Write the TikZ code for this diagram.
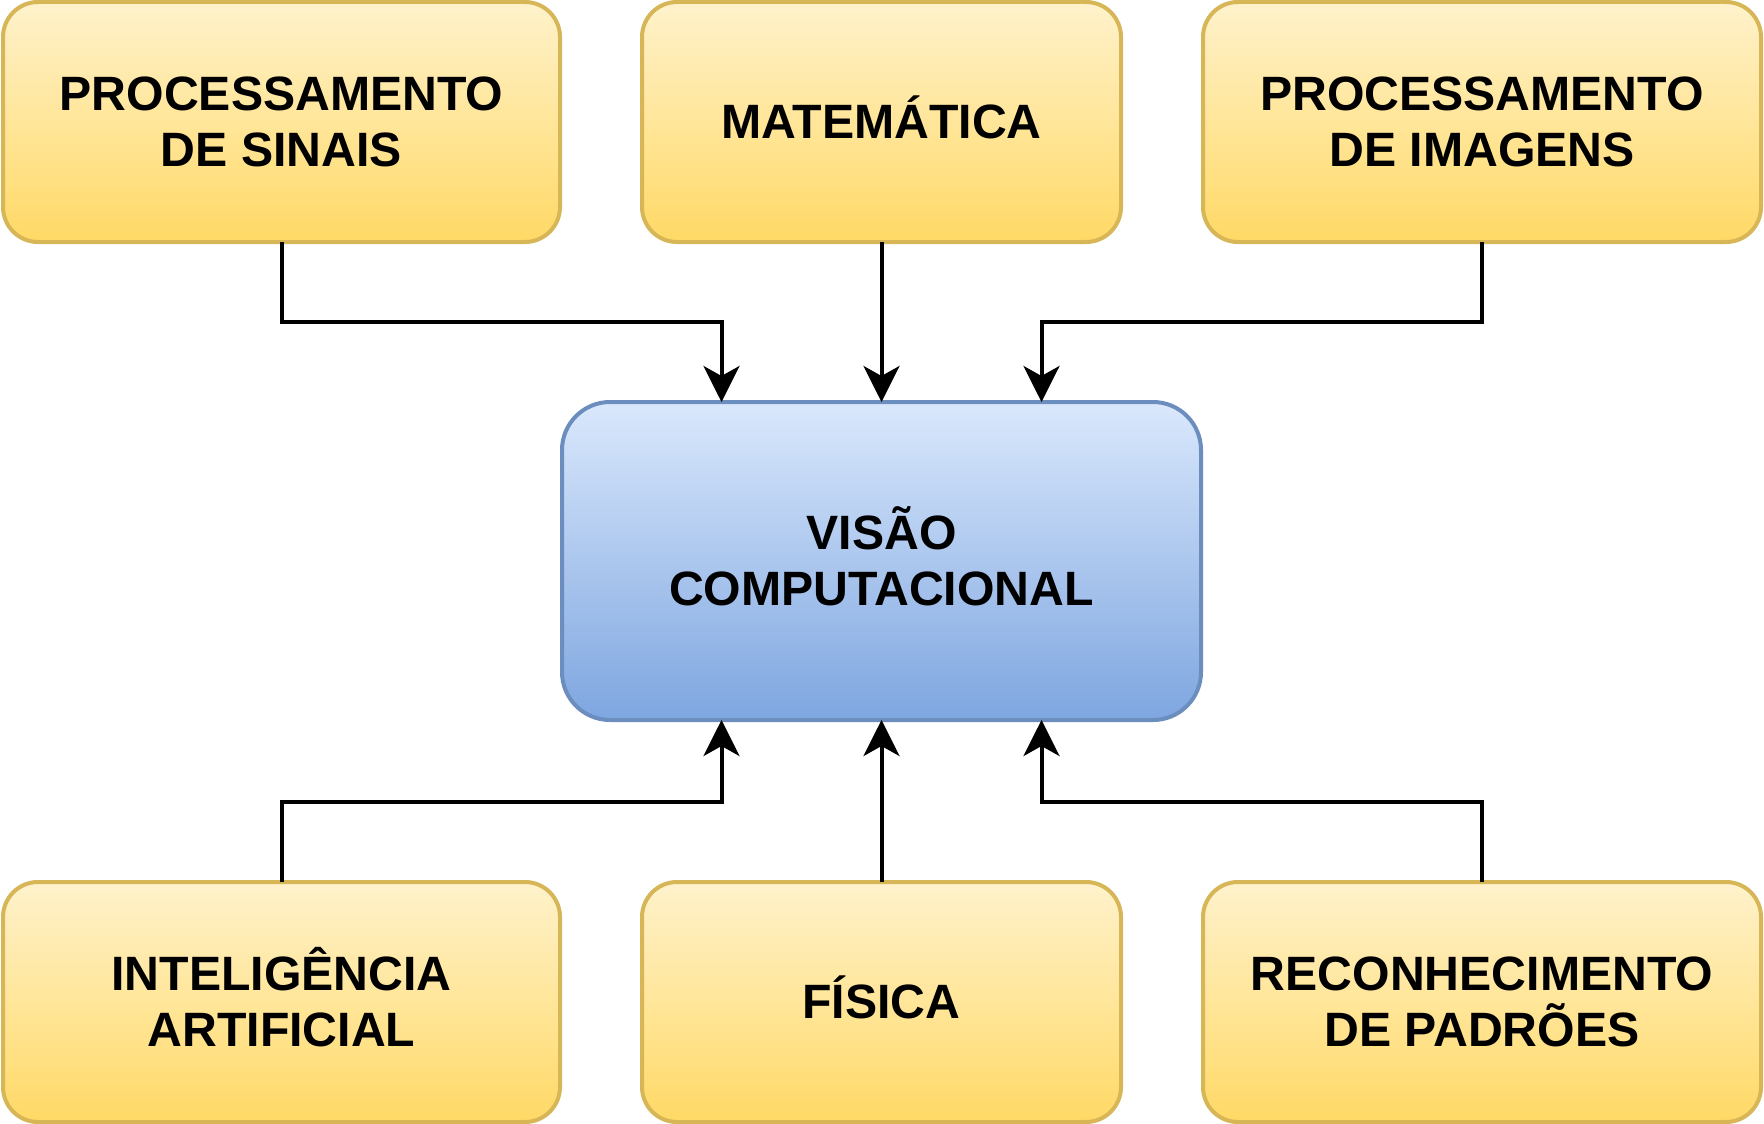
\documentclass[tikz,border=0pt]{standalone}
\usepackage{fontspec}
\setmainfont{Liberation Sans}
\usetikzlibrary{arrows.meta}
\definecolor{ytop}{HTML}{FFF2CC}
\definecolor{ybot}{HTML}{FFD966}
\definecolor{ystroke}{HTML}{D6B656}
\definecolor{btop}{HTML}{DAE8FC}
\definecolor{bbot}{HTML}{7EA6E0}
\definecolor{bstroke}{HTML}{6C8EBF}
\newcommand\boxfont{\fontsize{48.2}{56}\selectfont\bfseries}
\newcommand\capline[1]{\smash{#1}\vphantom{A}}
\begin{document}
\begin{tikzpicture}[x=1pt,y=-1pt,
  ybox/.style={draw=ystroke, line width=4pt, rounded corners=35pt, top color=ytop, bottom color=ybot,
    minimum height=240pt, outer sep=0pt, inner sep=0pt, align=center, font=\boxfont},
  bbox/.style={draw=bstroke, line width=4pt, rounded corners=48pt, top color=btop, bottom color=bbot,
    outer sep=0pt, inner sep=0pt, align=center, font=\boxfont},
  conn/.style={line width=4pt, -{Stealth[length=36pt,width=36pt,inset=10pt]}}]
\useasboundingbox (0,0) rectangle (1764,1124);
\node[ybox, minimum width=557pt] (ps) at (281.5,122) {PROCESSAMENTO\\DE SINAIS};
\node[ybox, minimum width=479pt] (mat) at (881.5,122) {\capline{MATEMÁTICA}};
\node[ybox, minimum width=558pt] (pi) at (1482,122) {PROCESSAMENTO\\DE IMAGENS};
\node[bbox, minimum width=639pt, minimum height=318pt] (vc) at (881.5,561) {\capline{VISÃO}\\COMPUTACIONAL};
\node[ybox, minimum width=557pt] (ia) at (281.5,1002) {\capline{INTELIGÊNCIA}\\ARTIFICIAL};
\node[ybox, minimum width=479pt] (fis) at (881.5,1002) {\capline{FÍSICA}};
\node[ybox, minimum width=558pt] (rp) at (1482,1002) {RECONHECIMENTO\\DE PADRÕES};
\draw[conn] (ps.south) -- ++(0,80) -| ([xshift=-160pt]vc.north);
\draw[conn] (mat.south) -- (vc.north);
\draw[conn] (pi.south) -- ++(0,80) -| ([xshift=160pt]vc.north);
\draw[conn] (ia.north) -- ++(0,-80) -| ([xshift=-160pt]vc.south);
\draw[conn] (fis.north) -- (vc.south);
\draw[conn] (rp.north) -- ++(0,-80) -| ([xshift=160pt]vc.south);
\end{tikzpicture}
\end{document}
